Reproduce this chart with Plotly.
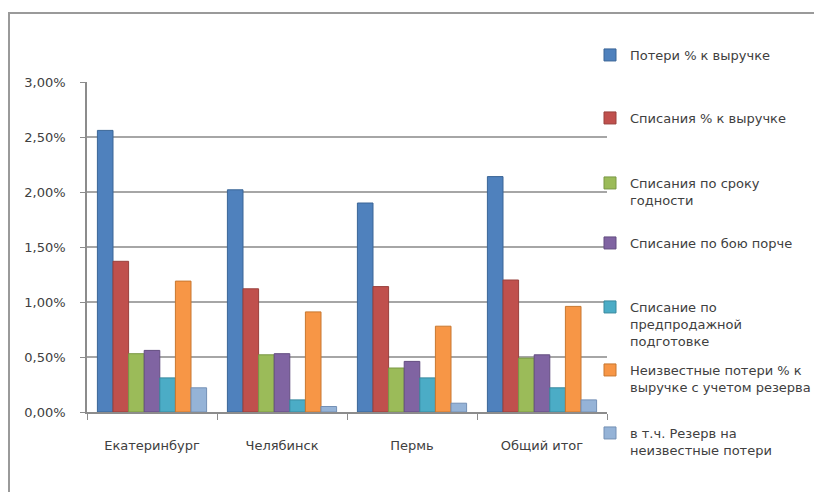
import plotly.graph_objects as go

categories = ["Екатеринбург", "Челябинск", "Пермь", "Общий итог"]

series_names = [
    "Потери % к выручке",
    "Списания % к выручке",
    "Списания по сроку<br>годности",
    "Списание по бою порче",
    "Списание по<br>предпродажной<br>подготовке",
    "Неизвестные потери % к<br>выручке с учетом резерва",
    "в т.ч. Резерв на<br>неизвестные потери",
]

poteri = [0.0256, 0.0202, 0.0190, 0.0214]
spisaniya = [0.0137, 0.0112, 0.0114, 0.0120]
srok = [0.0053, 0.0052, 0.0040, 0.0049]
boy = [0.0056, 0.0053, 0.0046, 0.0052]
predprod = [0.0031, 0.0011, 0.0031, 0.0022]
neizv = [0.0119, 0.0091, 0.0078, 0.0096]
rezerv = [0.0022, 0.0005, 0.0008, 0.0011]

series_values = [poteri, spisaniya, srok, boy, predprod, neizv, rezerv]

colors = ["#4F81BD", "#C0504D", "#9BBB59", "#8064A2", "#4BACC6", "#F79646", "#95B3D7"]
edges = ["#3A6596", "#99403D", "#7A9845", "#634D80", "#38899E", "#C8772F", "#7490B5"]

y_ticks = [0, 0.005, 0.01, 0.015, 0.02, 0.025, 0.03]

# pixel rows of the first text line of each legend entry
legend_rows = [55, 118, 183, 243, 307, 370, 433]

W, H = 814, 492
ML, MR, MT, MB = 87, 207, 82, 80
pw = W - ML - MR
ph = H - MT - MB

def px_x(x):
    return (x - ML) / pw

def px_y(y):
    return (H - MB - y) / ph

font_fam = "DejaVu Sans"
fig = go.Figure()
legend_layouts = {}
for i, (name, vals, c, e) in enumerate(zip(series_names, series_values, colors, edges)):
    lid = "legend" if i == 0 else f"legend{i + 1}"
    fig.add_trace(go.Bar(
        x=categories, y=vals, name=name,
        marker=dict(color=c, line=dict(color=e, width=1)),
        legend=lid,
    ))
    legend_layouts[lid] = dict(
        x=px_x(590), xanchor="left",
        y=px_y(legend_rows[i] - 15), yanchor="top",
        bgcolor="rgba(0,0,0,0)", font=dict(size=13, color="#404040"),
        valign="top",
    )

fig.update_layout(
    width=W, height=H,
    margin=dict(l=ML, r=MR, t=MT, b=MB, autoexpand=False),
    paper_bgcolor="white", plot_bgcolor="white",
    separators=", ",
    barmode="group", bargap=0.16, bargroupgap=0,
    font=dict(family=font_fam, size=13, color="#404040"),
    showlegend=True,
    xaxis=dict(
        showline=True, linecolor="#8c8c8c", linewidth=1.5,
        ticks="outside", tickson="boundaries", ticklen=6, tickcolor="#8c8c8c",
        ticklabelstandoff=21, tickfont=dict(size=13, color="#404040"),
        showgrid=False,
    ),
    yaxis=dict(
        range=[0, 0.03], tickvals=y_ticks, tickformat=".2%",
        showline=True, linecolor="#8c8c8c", linewidth=1.5,
        ticks="outside", ticklen=5, tickcolor="#8c8c8c",
        ticklabelstandoff=12, tickfont=dict(size=13, color="#404040"),
        showgrid=True, gridcolor="#a6a6a6", gridwidth=1.5,
        zeroline=False,
    ),
    shapes=[
        dict(type="rect", xref="paper", yref="paper",
             x0=px_x(9), x1=px_x(830), y0=px_y(510), y1=px_y(13),
             line=dict(color="#9a9a9a", width=2), fillcolor="rgba(0,0,0,0)",
             layer="above"),
    ],
    **legend_layouts,
)

fig.write_html("out.html")
